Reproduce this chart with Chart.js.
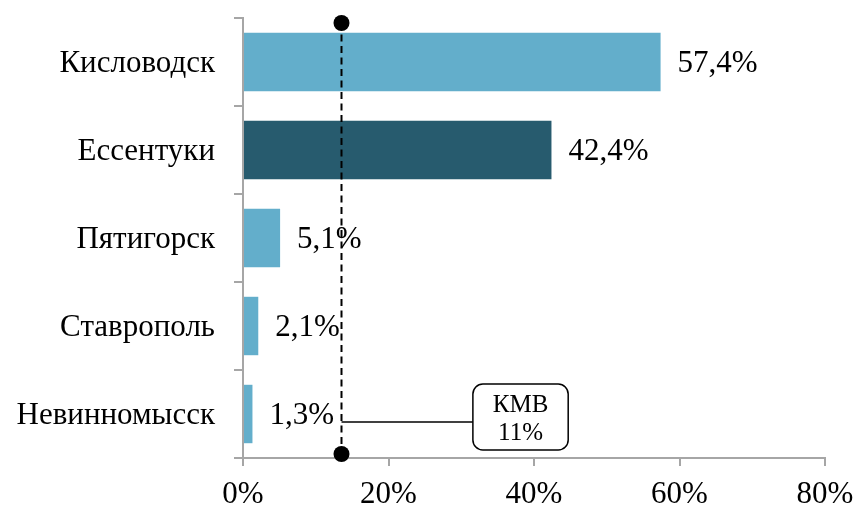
<!DOCTYPE html>
<html>
<head>
<meta charset="utf-8">
<script src="https://cdn.jsdelivr.net/npm/chart.js@4"></script>
<style>
  html, body { margin: 0; padding: 0; background: #fff; }
  #wrap { width: 854px; height: 506px; }
</style>
</head>
<body>
<div id="wrap"><canvas id="chart"></canvas></div>
<script>
// données
var villes = ["Кисловодск", "Ессентуки", "Пятигорск", "Ставрополь", "Невинномысск"];
var parts = [57.4, 42.4, 5.1, 2.1, 1.3];
var couleurs = ["#63aecb", "#275b6e", "#63aecb", "#63aecb", "#63aecb"];
var graduations = [0, 20, 40, 60, 80];
var moyenneKMV = 13.6;          // position of the dashed line
var etiquetteKMV = ["КМВ", "11%"];
var boiteKMV = [31.6, 44.7];    // box span on the x scale

var police = "'Liberation Serif', 'Times New Roman', serif";

function virgule(v) {
    return v.toFixed(1).replace(".", ",") + "%";
}

// étiquettes, ligne pointillée et encadré
var decor = {
    id: "decor",
    afterDatasetsDraw: function (chart) {
        var ctx = chart.ctx;
        var x = chart.scales.x;
        var y = chart.scales.y;
        var meta = chart.getDatasetMeta(0);

        ctx.save();
        ctx.fillStyle = "#000";
        ctx.font = "31px " + police;
        ctx.textBaseline = "middle";
        ctx.textAlign = "left";
        meta.data.forEach(function (bar, i) {
            ctx.fillText(virgule(parts[i]), bar.x + 17, bar.y + 2);
        });

        // ligne
        var lx = Math.round(x.getPixelForValue(moyenneKMV)) - 0.5;
        var haut = chart.chartArea.top + 5;
        var bas = chart.chartArea.bottom - 4;
        ctx.strokeStyle = "#000";
        ctx.lineWidth = 2;
        ctx.setLineDash([7, 4.5]);
        ctx.beginPath();
        ctx.moveTo(lx, haut);
        ctx.lineTo(lx, bas);
        ctx.stroke();
        ctx.setLineDash([]);

        ctx.beginPath();
        ctx.arc(lx, haut, 8, 0, Math.PI * 2);
        ctx.fill();
        ctx.beginPath();
        ctx.arc(lx, bas, 8, 0, Math.PI * 2);
        ctx.fill();

        // encadré
        var cy = y.getPixelForValue(4) + 8;
        var bx1 = x.getPixelForValue(boiteKMV[0]);
        var bx2 = x.getPixelForValue(boiteKMV[1]);
        ctx.lineWidth = 1.5;
        ctx.beginPath();
        ctx.moveTo(lx, cy);
        ctx.lineTo(bx1, cy);
        ctx.stroke();

        ctx.beginPath();
        ctx.roundRect(bx1, cy - 38, bx2 - bx1, 66, 10);
        ctx.fillStyle = "#fff";
        ctx.fill();
        ctx.stroke();

        ctx.fillStyle = "#000";
        ctx.font = "25px " + police;
        ctx.textAlign = "center";
        ctx.fillText(etiquetteKMV[0], (bx1 + bx2) / 2, cy - 17);
        ctx.fillText(etiquetteKMV[1], (bx1 + bx2) / 2, cy + 11);
        ctx.restore();
    }
};

new Chart(document.getElementById("chart"), {
    type: "bar",
    data: {
        labels: villes,
        datasets: [{
            data: parts,
            backgroundColor: couleurs,
            barPercentage: 0.664,
            categoryPercentage: 1
        }]
    },
    options: {
        indexAxis: "y",
        responsive: true,
        maintainAspectRatio: false,
        animation: false,
        layout: { padding: { top: 18, right: 29, left: 0, bottom: 0 } },
        plugins: {
            legend: { display: false },
            tooltip: { enabled: false }
        },
        scales: {
            x: {
                min: 0,
                max: 80,
                afterBuildTicks: function (scale) {
                    scale.ticks = graduations.map(function (v) { return { value: v }; });
                },
                afterFit: function (scale) {
                    scale.height = 48;
                    scale.paddingLeft = 0;
                    scale.paddingRight = 0;
                },
                ticks: {
                    color: "#000",
                    padding: 10,
                    maxRotation: 0,
                    font: { family: police, size: 31 },
                    callback: function (v) { return v + "%"; }
                },
                grid: {
                    drawOnChartArea: false,
                    drawTicks: true,
                    tickLength: 8,
                    color: "#a6a6a6",
                    lineWidth: 2
                },
                border: { color: "#a6a6a6", width: 2 }
            },
            y: {
                afterFit: function (scale) {
                    scale.width = 243;
                    scale.paddingTop = 0;
                    scale.paddingBottom = 0;
                },
                ticks: {
                    color: "#000",
                    padding: 19,
                    labelOffset: 2,
                    font: { family: police, size: 31 }
                },
                grid: {
                    offset: true,
                    drawOnChartArea: false,
                    drawTicks: true,
                    tickLength: 9,
                    color: "#a6a6a6",
                    lineWidth: 2
                },
                border: { color: "#a6a6a6", width: 2 }
            }
        }
    },
    plugins: [decor]
});
</script>
</body>
</html>
